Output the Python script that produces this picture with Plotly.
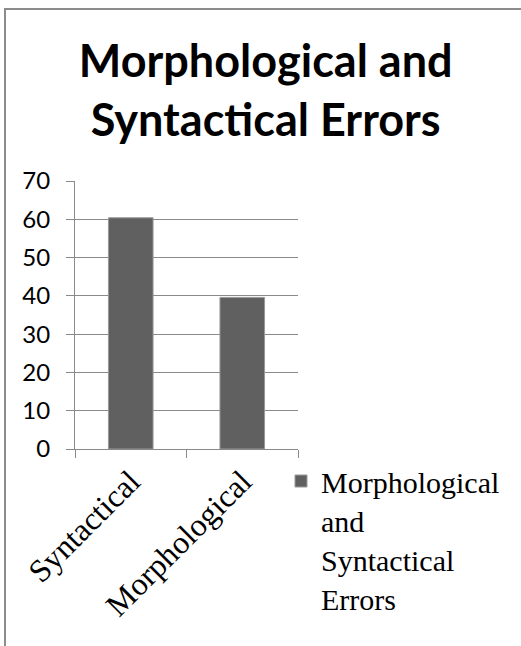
import plotly.graph_objects as go

categories = ["Syntactical", "Morphological"]
values = [60.4, 39.6]
series_name = "Morphological<br>and<br>Syntactical<br>Errors"
title_text = "Morphological and<br>Syntactical Errors"
y_ticks = [0, 10, 20, 30, 40, 50, 60, 70]

W, H = 521, 646
L, R, T, B = 75, 223, 181, 197

fig = go.Figure()
fig.add_trace(go.Bar(
    x=categories, y=values, name=series_name,
    marker=dict(color="#606060", line=dict(color="#9a9a9a", width=1)),
    showlegend=True,
))

pw = W - L - R
ph = H - T - B

def px_x(p):
    return (p - L) / pw

def px_y(p):
    return (H - B - p) / ph

fig.update_layout(
    width=W, height=H,
    margin=dict(l=L, r=R, t=T, b=B, autoexpand=False),
    paper_bgcolor="white", plot_bgcolor="white",
    bargap=0.6,
    title=dict(text=title_text, x=0.51, xanchor="center",
               y=1 - 77 / H, yanchor="top", yref="container",
               font=dict(family="Lato", size=45, color="black", weight="bold")),
    xaxis=dict(
        tickangle=-45, tickson="boundaries", ticks="outside", ticklen=8,
        tickcolor="#8a8a8a", showline=True, linecolor="#8a8a8a", linewidth=1,
        showgrid=False,
        tickfont=dict(family="Liberation Serif", size=32, color="black"),
    ),
    yaxis=dict(
        range=[0, 70], tickvals=y_ticks, ticks="outside", ticklen=8,
        tickcolor="#8a8a8a", showline=True, linecolor="#8a8a8a", linewidth=1,
        showgrid=True, gridcolor="#8a8a8a", gridwidth=1, zeroline=False,
        tickfont=dict(family="Lato", size=24, color="black"),
        ticklabelstandoff=11,
    ),
    legend=dict(x=px_x(281), xanchor="left", y=px_y(455), yanchor="top",
                valign="top", bgcolor="rgba(0,0,0,0)",
                font=dict(family="Liberation Serif", size=30, color="black"),
                itemclick=False),
    shapes=[dict(type="rect", xref="paper", yref="paper",
                 x0=px_x(5), x1=px_x(W + 20), y0=px_y(H + 20), y1=px_y(9),
                 line=dict(color="#8c8c8c", width=2), fillcolor="rgba(0,0,0,0)",
                 layer="below")],
)

fig.write_html("out.html", post_script="document.body.style.margin='0';",
               config={"displayModeBar": False})
